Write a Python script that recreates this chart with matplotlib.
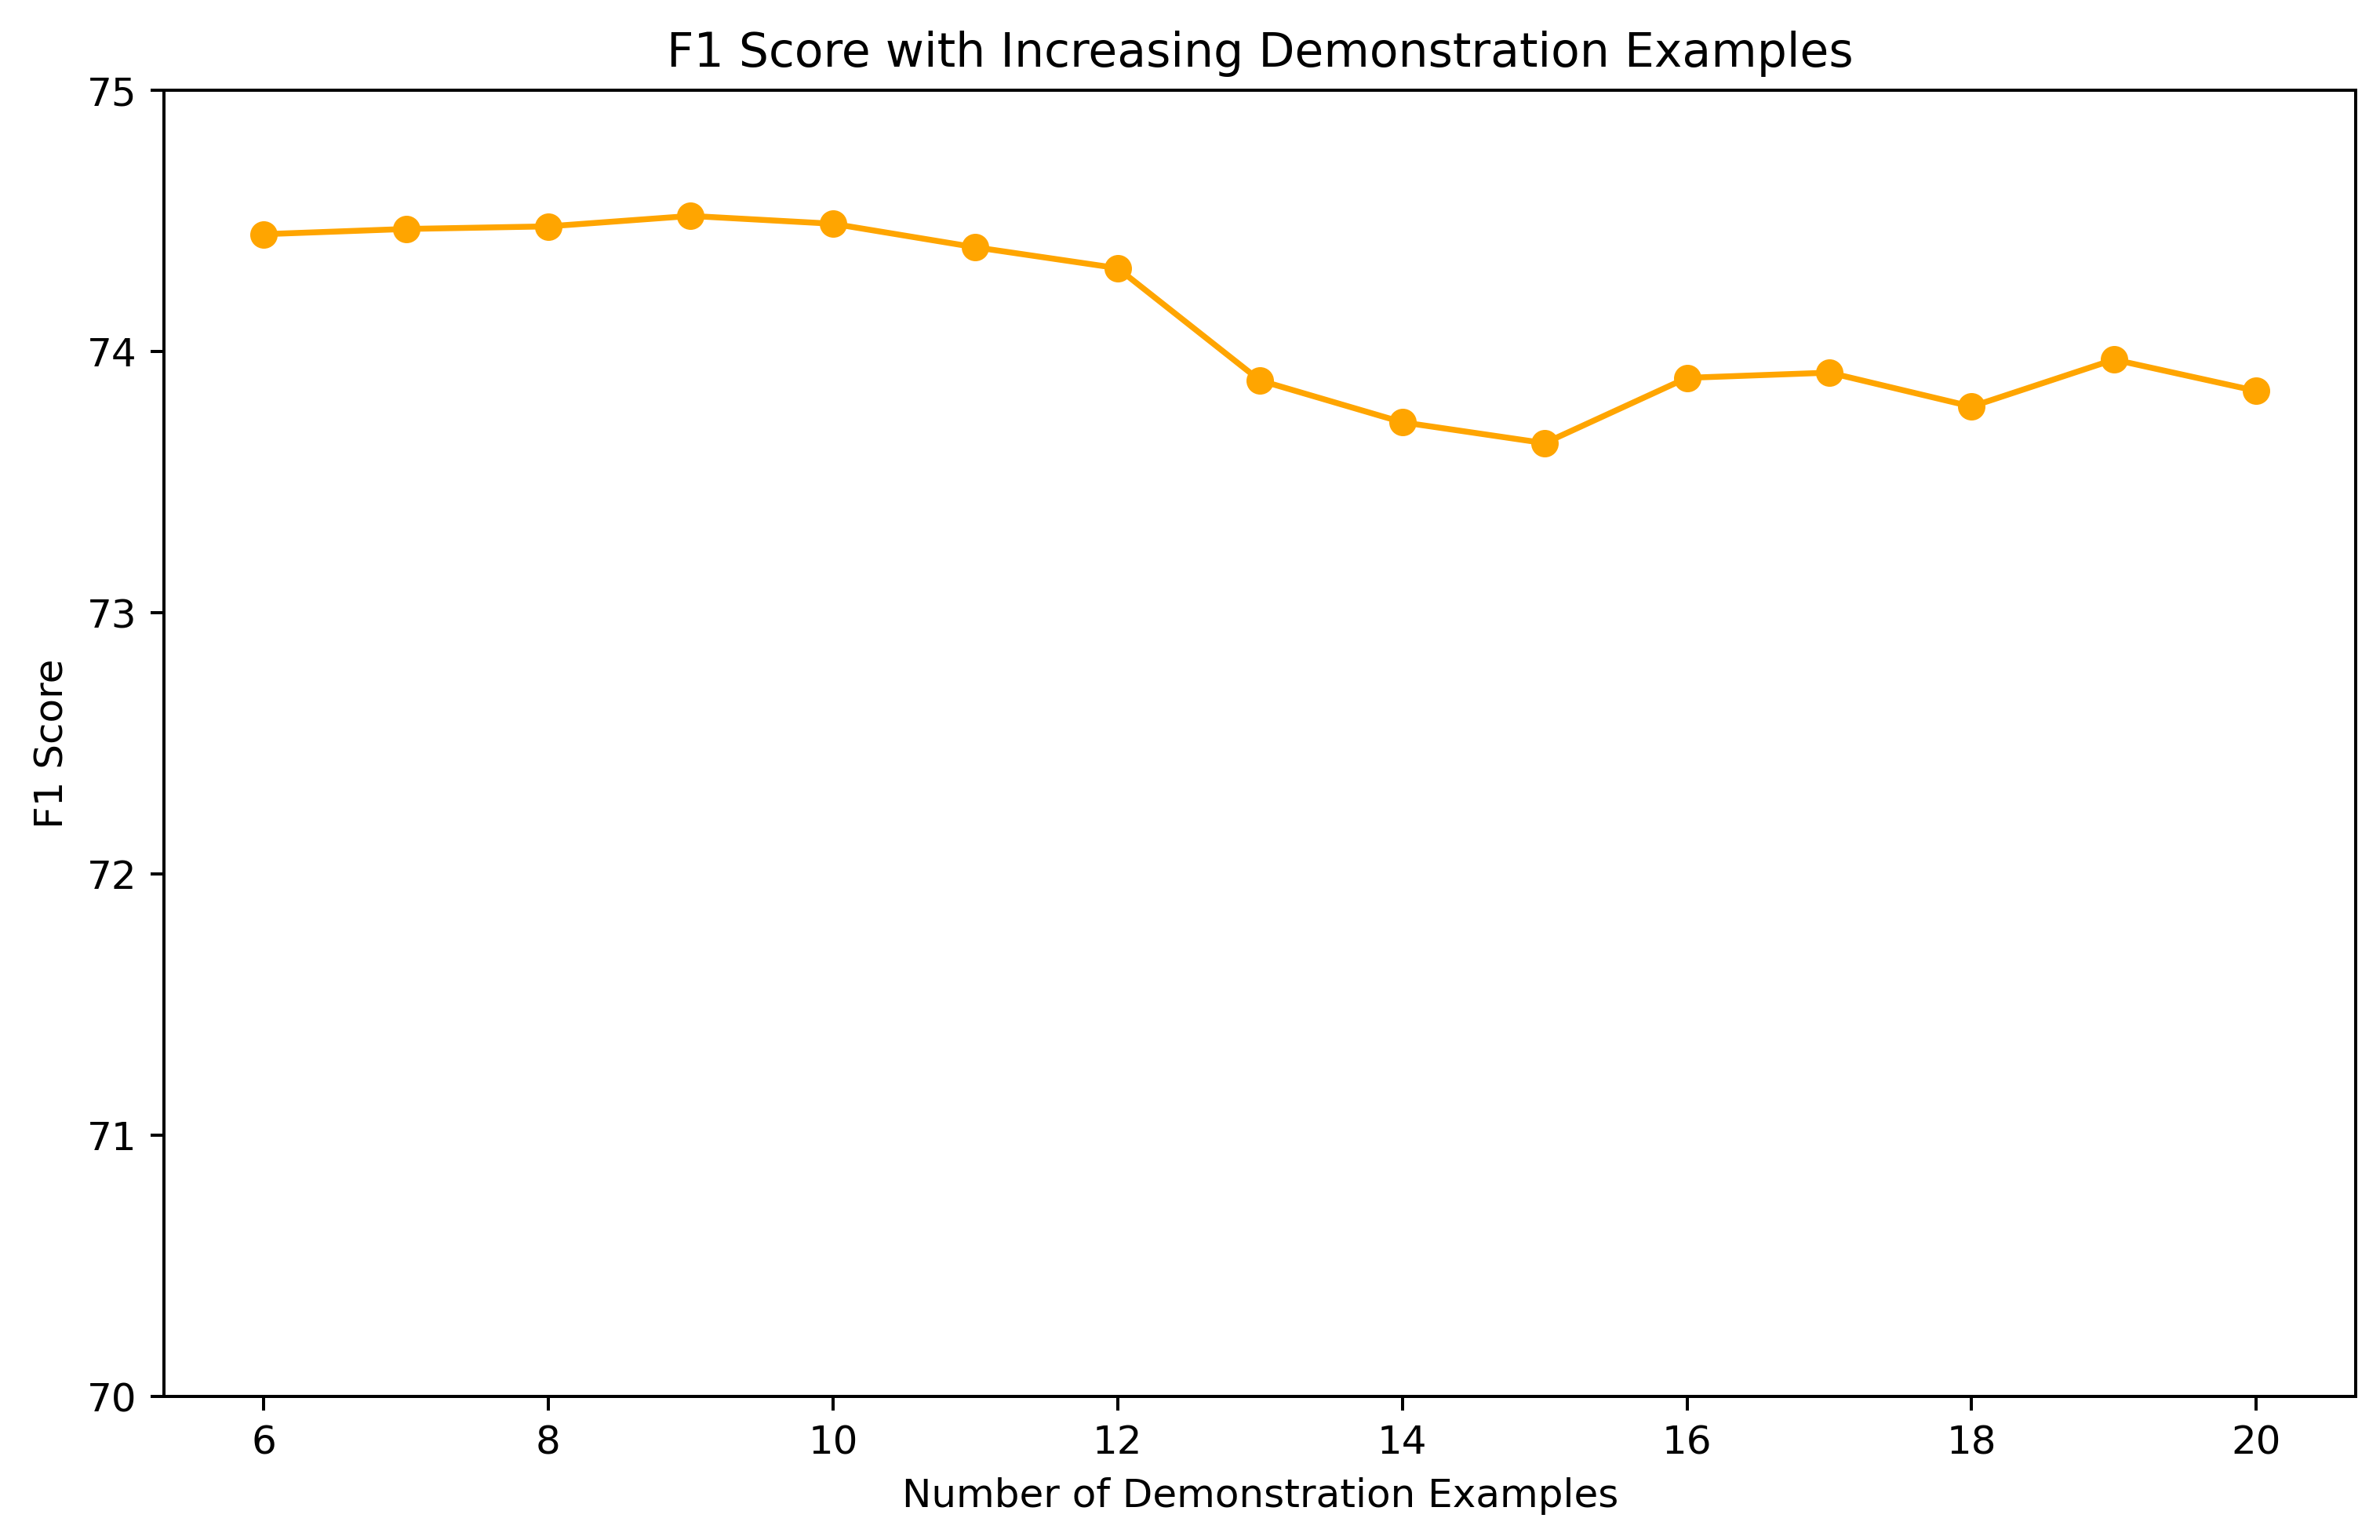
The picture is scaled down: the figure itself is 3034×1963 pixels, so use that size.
import numpy as np
import matplotlib
matplotlib.use("Agg")
import matplotlib.pyplot as plt

# values
num_examples = [6, 7, 8, 9, 10, 11, 12, 13, 14, 15, 16, 17, 18, 19, 20]
f1_scores = [74.45, 74.47, 74.48, 74.52, 74.49, 74.40, 74.32, 73.89, 73.73,
             73.65, 73.90, 73.92, 73.79, 73.97, 73.85]

dpi = 360
fig = plt.figure(figsize=(3034 / dpi, 1963 / dpi), dpi=dpi)
ax = fig.add_axes([0.0689, 0.0932, 0.921, 0.848])

ax.plot(num_examples, f1_scores, marker='o', color='orange')
ax.set_ylim(70, 75)
ax.set_xlabel("Number of Demonstration Examples")
ax.set_ylabel("F1 Score")
ax.set_title("F1 Score with Increasing Demonstration Examples")

fig.savefig("out.png", dpi=dpi)
